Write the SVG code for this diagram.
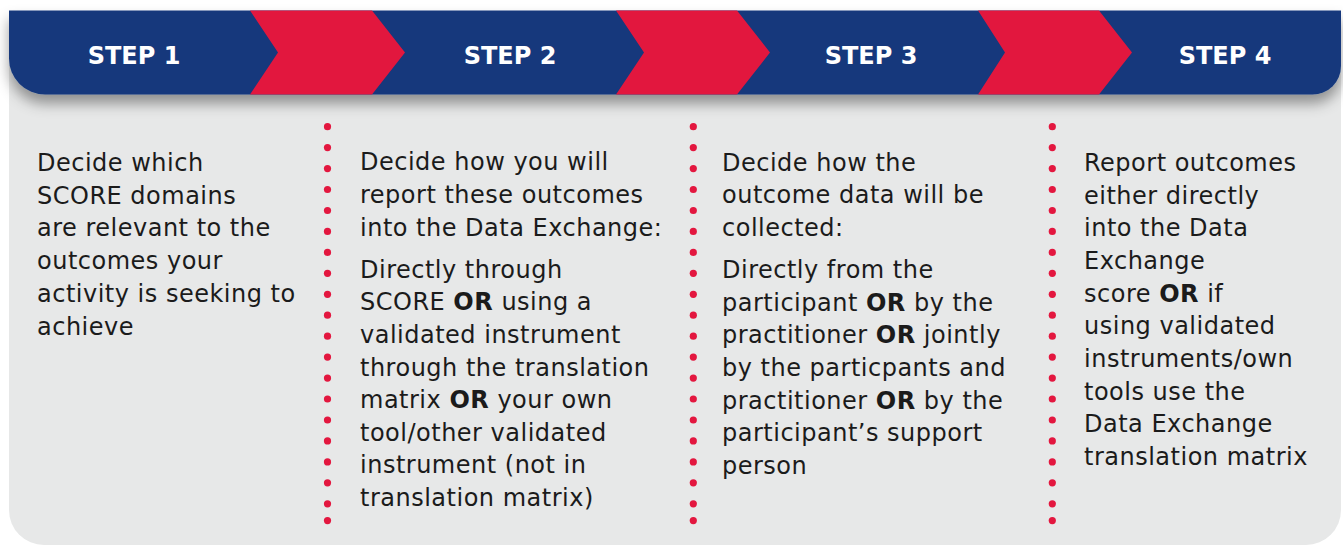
<svg xmlns="http://www.w3.org/2000/svg" width="1343" height="545" viewBox="0 0 1343 545">
  <style>
    .step { font-family: "DejaVu Sans", "Liberation Sans", sans-serif; font-weight: bold; font-size: 24px; fill: #ffffff; text-anchor: middle; }
    .body { font-family: "DejaVu Sans", "Liberation Sans", sans-serif; font-size: 24px; letter-spacing: 0.5px; fill: #1b1b1b; }
    .b { font-weight: bold; }
    .dot { fill: #e3173f; }
    .chev { fill: #e2173e; }
  </style>
  <defs>
    <filter id="shadow" x="-5%" y="-30%" width="110%" height="180%">
      <feDropShadow dx="0" dy="9" stdDeviation="7" flood-color="#000000" flood-opacity="0.38"/>
    </filter>
    <g id="dots">
      <circle class="dot" cx="0" cy="126.7" r="3.6"/>
      <circle class="dot" cx="0" cy="147.6" r="3.6"/>
      <circle class="dot" cx="0" cy="168.6" r="3.6"/>
      <circle class="dot" cx="0" cy="189.5" r="3.6"/>
      <circle class="dot" cx="0" cy="210.5" r="3.6"/>
      <circle class="dot" cx="0" cy="231.4" r="3.6"/>
      <circle class="dot" cx="0" cy="252.4" r="3.6"/>
      <circle class="dot" cx="0" cy="273.3" r="3.6"/>
      <circle class="dot" cx="0" cy="294.3" r="3.6"/>
      <circle class="dot" cx="0" cy="315.2" r="3.6"/>
      <circle class="dot" cx="0" cy="336.2" r="3.6"/>
      <circle class="dot" cx="0" cy="357.1" r="3.6"/>
      <circle class="dot" cx="0" cy="378.1" r="3.6"/>
      <circle class="dot" cx="0" cy="399.0" r="3.6"/>
      <circle class="dot" cx="0" cy="420.0" r="3.6"/>
      <circle class="dot" cx="0" cy="440.9" r="3.6"/>
      <circle class="dot" cx="0" cy="461.9" r="3.6"/>
      <circle class="dot" cx="0" cy="482.8" r="3.6"/>
      <circle class="dot" cx="0" cy="503.8" r="3.6"/>
      <circle class="dot" cx="0" cy="520.6" r="3.6"/>
    </g>
  </defs>

  <rect width="1343" height="545" fill="#ffffff"/>

  <!-- grey panel -->
  <path id="panel" d="M9,60 H1341 V510 A35,35 0 0 1 1306,545 H44 A35,35 0 0 1 9,510 Z" fill="#e7e8e8"/>

  <!-- header bar -->
  <g id="header">
    <path d="M9,10.5 H1341 V66 A28.5,28.5 0 0 1 1312.5,94.5 H45 A36,36 0 0 1 9,58.5 Z" fill="#16397c" filter="url(#shadow)"/>
    <polygon class="chev" points="250,10.5 372,10.5 405,52.5 372,94.5 250,94.5 278,52.5"/>
    <polygon class="chev" points="616,10.5 737,10.5 770,52.5 737,94.5 616,94.5 644,52.5"/>
    <polygon class="chev" points="978,10.5 1099,10.5 1132,52.5 1099,94.5 978,94.5 1005,52.5"/>
  </g>

  <g id="step1">
    <text class="step" x="134" y="64">STEP 1</text>
    <text class="body" x="37">
      <tspan x="37" y="170.7">Decide which</tspan>
      <tspan x="37" y="203.5">SCORE domains</tspan>
      <tspan x="37" y="236.3">are relevant to the</tspan>
      <tspan x="37" y="269.1">outcomes your</tspan>
      <tspan x="37" y="301.9">activity is seeking to</tspan>
      <tspan x="37" y="334.7">achieve</tspan>
    </text>
  </g>

  <g id="step2">
    <text class="step" x="510" y="64">STEP 2</text>
    <text class="body" x="360">
      <tspan x="360" y="170.3">Decide how you will</tspan>
      <tspan x="360" y="203.1">report these outcomes</tspan>
      <tspan x="360" y="235.9">into the Data Exchange:</tspan>
      <tspan x="360" y="277.5">Directly through</tspan>
      <tspan x="360" y="310.2">SCORE <tspan class="b">OR</tspan> using a</tspan>
      <tspan x="360" y="342.9">validated instrument</tspan>
      <tspan x="360" y="375.5">through the translation</tspan>
      <tspan x="360" y="408.1">matrix <tspan class="b">OR</tspan> your own</tspan>
      <tspan x="360" y="440.7">tool/other validated</tspan>
      <tspan x="360" y="473.3">instrument (not in</tspan>
      <tspan x="360" y="506">translation matrix)</tspan>
    </text>
  </g>

  <g id="step3">
    <text class="step" x="871" y="64">STEP 3</text>
    <text class="body" x="722">
      <tspan x="722" y="170.5">Decide how the</tspan>
      <tspan x="722" y="203.3">outcome data will be</tspan>
      <tspan x="722" y="236.1">collected:</tspan>
      <tspan x="722" y="278.2">Directly from the</tspan>
      <tspan x="722" y="310.8">participant <tspan class="b">OR</tspan> by the</tspan>
      <tspan x="722" y="343.4">practitioner <tspan class="b">OR</tspan> jointly</tspan>
      <tspan x="722" y="376">by the particpants and</tspan>
      <tspan x="722" y="408.6">practitioner <tspan class="b">OR</tspan> by the</tspan>
      <tspan x="722" y="441.2">participant’s support</tspan>
      <tspan x="722" y="473.8">person</tspan>
    </text>
  </g>

  <g id="step4">
    <text class="step" x="1225" y="64">STEP 4</text>
    <text class="body" x="1084">
      <tspan x="1084" y="171">Report outcomes</tspan>
      <tspan x="1084" y="203.7">either directly</tspan>
      <tspan x="1084" y="236.3">into the Data</tspan>
      <tspan x="1084" y="269">Exchange</tspan>
      <tspan x="1084" y="301.7">score <tspan class="b">OR</tspan> if</tspan>
      <tspan x="1084" y="334.3">using validated</tspan>
      <tspan x="1084" y="367">instruments/own</tspan>
      <tspan x="1084" y="399.7">tools use the</tspan>
      <tspan x="1084" y="432.3">Data Exchange</tspan>
      <tspan x="1084" y="465">translation matrix</tspan>
    </text>
  </g>

  <g id="connectors">
    <use href="#dots" x="327.5"/>
    <use href="#dots" x="693.3"/>
    <use href="#dots" x="1052.3"/>
  </g>
</svg>
